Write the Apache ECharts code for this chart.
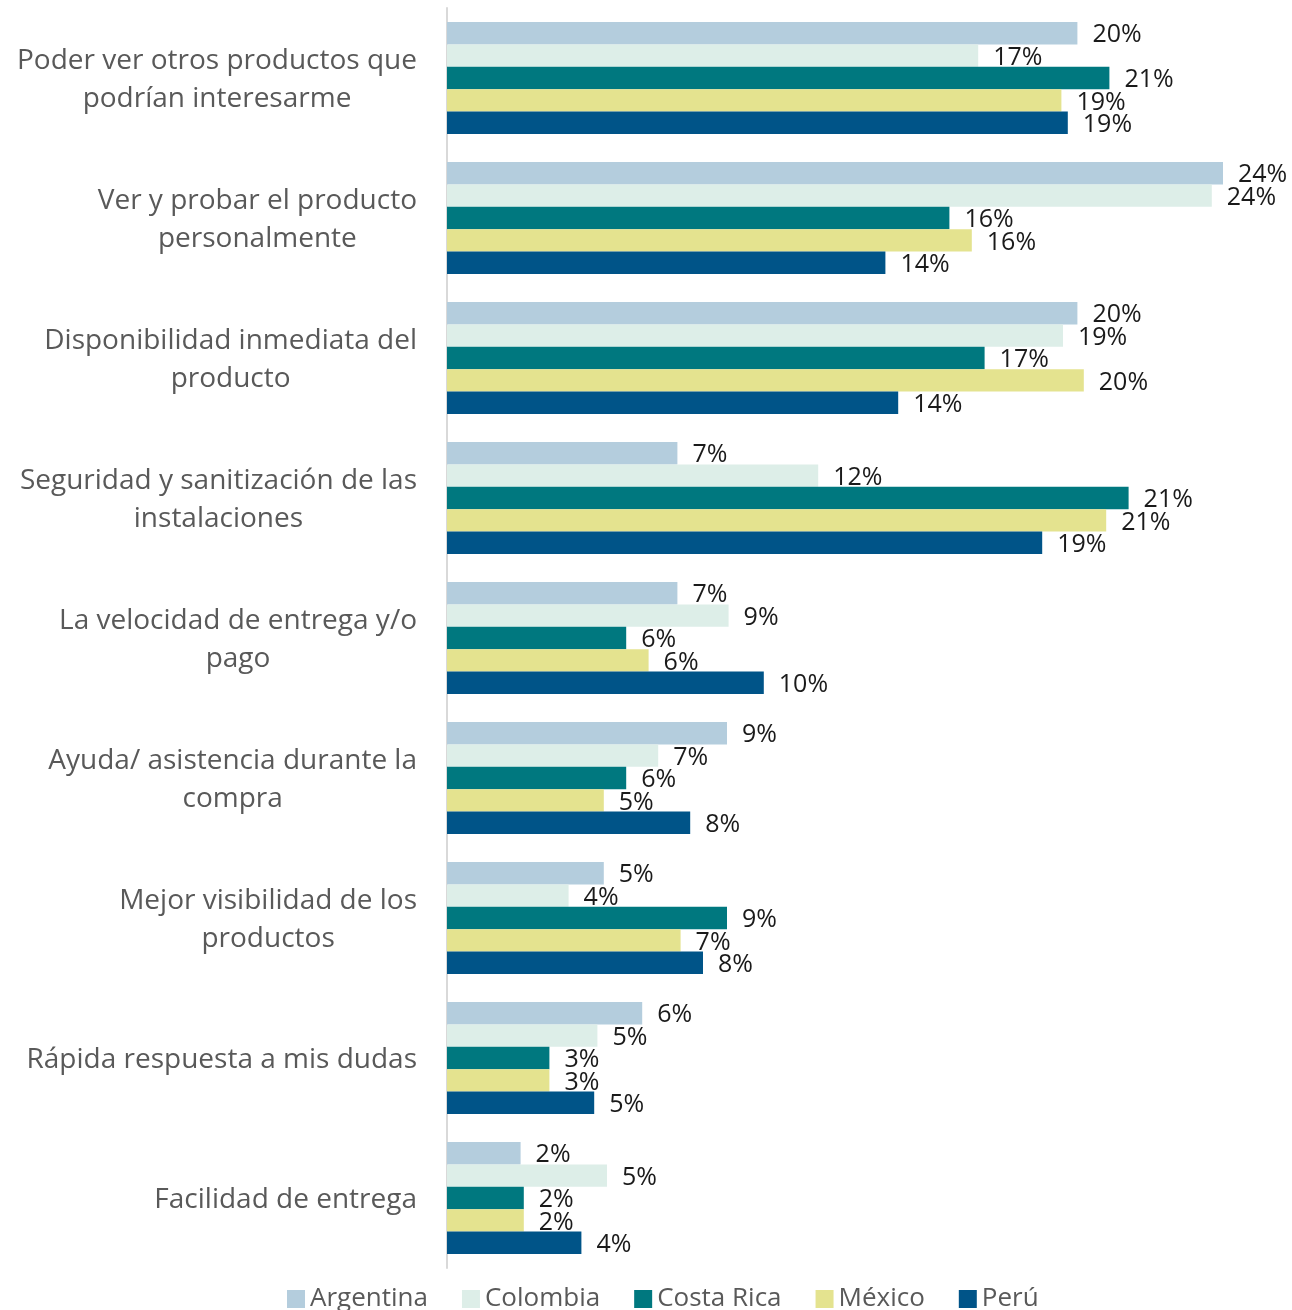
<!DOCTYPE html>
<html>
<head>
<meta charset="utf-8">
<script src="https://cdn.jsdelivr.net/npm/echarts@6/dist/echarts.min.js"></script>
<style>html,body{margin:0;padding:0;background:#fff}#c{width:1292px;height:1310px}</style>
</head>
<body>
<div id="c"></div>
<script>
const categories = [
  "Poder ver otros productos que\npodrían interesarme",
  "Ver y probar el producto\npersonalmente",
  "Disponibilidad inmediata del\nproducto",
  "Seguridad y sanitización de las\ninstalaciones",
  "La velocidad de entrega y/o\npago",
  "Ayuda/ asistencia durante la\ncompra",
  "Mejor visibilidad de los\nproductos",
  "Rápida respuesta a mis dudas",
  "Facilidad de entrega"
];
const seriesNames = ["Argentina", "Colombia", "Costa Rica", "México", "Perú"];
const argentina = [19.7, 24.25, 19.7, 7.2, 7.2, 8.75, 4.9, 6.1, 2.3];
const colombia  = [16.6, 23.9, 19.25, 11.6, 8.8, 6.6, 3.8, 4.7, 5.0];
const costaRica = [20.7, 15.7, 16.8, 21.3, 5.6, 5.6, 8.75, 3.2, 2.4];
const mexico    = [19.2, 16.4, 19.9, 20.6, 6.3, 4.9, 7.3, 3.2, 2.4];
const peru      = [19.4, 13.7, 14.1, 18.6, 9.9, 7.6, 8.0, 4.6, 4.2];
const colors = ["#b4cddd", "#ddeee8", "#00787f", "#e4e38f", "#005488"];
const allData = [argentina, colombia, costaRica, mexico, peru];

const chart = echarts.init(document.getElementById('c'), null, {renderer: 'canvas'});
const series = seriesNames.map((name, i) => ({
  name: name,
  type: 'bar',
  data: allData[i],
  barGap: '0%',
  barCategoryGap: '20%',
  itemStyle: {color: colors[i]},
  label: {
    show: true,
    position: 'right',
    distance: 15,
    offset: [0, 2],
    color: '#1a1a1a',
    fontSize: 25,
    fontFamily: 'Open Sans',
    formatter: p => Math.round(p.value) + '%'
  }
}));

chart.setOption({
  animation: false,
  color: colors,
  grid: {left: 447, right: 45, top: 8, bottom: 42, containLabel: false},
  legend: {
    data: seriesNames,
    left: 282,
    top: 1281,
    itemWidth: 18,
    itemHeight: 18,
    itemGap: 34,
    icon: 'rect',
    textStyle: {color: '#595959', fontSize: 26, fontFamily: 'Open Sans'}
  },
  xAxis: {
    type: 'value',
    min: 0,
    max: 25,
    show: false
  },
  yAxis: {
    type: 'category',
    data: categories,
    inverse: true,
    axisLine: {show: true, lineStyle: {color: '#d9d9d9', width: 2}},
    axisTick: {show: false},
    axisLabel: {
      color: '#595959',
      fontSize: 28,
      fontFamily: 'Open Sans',
      align: 'right',
      margin: 30,
      padding: [4, 0, 0, 0],
      formatter: v => v.split('\n').map(l => '{c|' + l + '}').join('\n'),
      rich: {
        c: {align: 'center', color: '#595959', fontSize: 28, fontFamily: 'Open Sans', lineHeight: 38}
      }
    }
  },
  series: series
});
</script>
</body>
</html>
